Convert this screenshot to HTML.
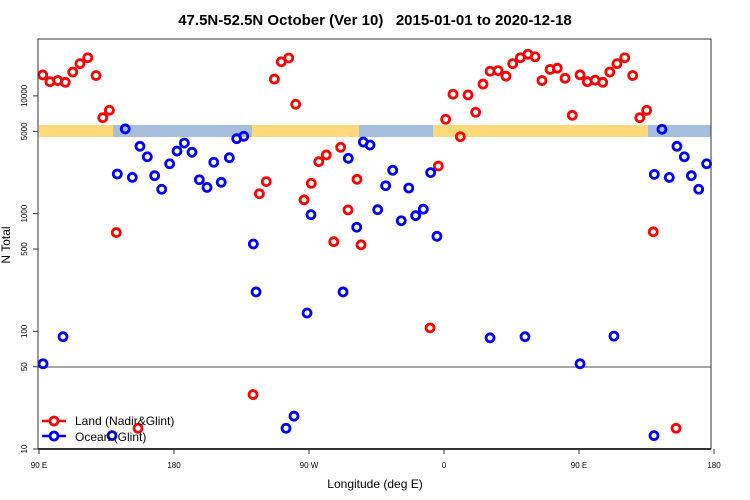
<!DOCTYPE html>
<html><head><meta charset="utf-8"><style>
body{margin:0;background:#fff}
svg{display:block;font-family:"Liberation Sans",sans-serif}
</style></head><body>
<svg id="chart" width="750" height="500" viewBox="0 0 750 500">
<text x="375" y="25" text-anchor="middle" font-size="15" font-weight="bold">47.5N-52.5N October (Ver 10)&#160;&#160; 2015-01-01 to 2020-12-18</text>
<text x="375" y="488" text-anchor="middle" font-size="12">Longitude (deg E)</text>
<text transform="translate(10,245) rotate(-90)" text-anchor="middle" font-size="12">N Total</text>
<g id="band"></g>
<line x1="38" x2="711" y1="367" y2="367" stroke="#888" stroke-width="1.5"/>
<g id="axes"></g>
<g id="pts"></g>
<rect x="38" y="39" width="673" height="410" fill="none" stroke="#333" stroke-width="1"/>
<line x1="38" x2="711" y1="449" y2="449" stroke="#333" stroke-width="2"/>
<g>
<line x1="42" x2="66" y1="421" y2="421" stroke="#f00" stroke-width="2.5"/>
<circle cx="54" cy="421" r="4" fill="#fff" stroke="#f00" stroke-width="2.8"/>
<text x="75" y="425" font-size="12">Land (Nadir&amp;Glint)</text>
<line x1="42" x2="66" y1="436" y2="436" stroke="#00f" stroke-width="2.5"/>
<circle cx="54" cy="436" r="4" fill="#fff" stroke="#00f" stroke-width="2.8"/>
<text x="75" y="441" font-size="12">Ocean (Glint)</text>
</g>
</svg>
<script>
// longitude unwrapped: 90 = 90E, 180 = 180, 270 = 90W, 360 = 0, 450 = 90E, 540 = 180
const landLon=[92.5,97.3,102.5,107.5,112.5,117.3,122.5,128,132.5,136.9,141.5,156,232.7,236.9,241.5,246.9,251.5,256.5,261.1,266.7,271.5,276.5,281.5,286.5,291.1,296,302,304.7,350.7,356.2,361.1,366,370.9,376,381.1,386,390.7,396,401.3,405.8,410.9,416,420.7,425.3,430.7,435.5,440.7,445.5,450.7,455.5,460.7,465.8,470.5,475.3,480.5,485.8,490.5,495.1,499.5,514.7];
const landVal=[15070,13200,13500,13050,15950,18800,21100,14900,6530,7550,690,15,29,1475,1870,13900,19500,21000,8490,1310,1810,2760,3150,577,3660,1075,1955,543,107,2535,6330,10330,4500,10190,7260,12600,16200,16400,14700,18800,21100,22600,21500,13500,16800,17200,14100,6840,15100,13200,13600,13050,15950,18800,21100,14900,6530,7550,700,15];
const oceanLon=[92.7,106,138.7,142.2,147.5,152.2,157.3,162.2,167.1,171.8,177.1,182,186.9,192,196.9,202,206.5,211.5,216.9,221.8,226.5,232.9,234.7,254.7,260,268.7,271.3,292.7,296.2,301.8,306.2,310.7,315.8,321.1,325.8,331.5,336.5,341.1,346.2,351.1,355.3,390.7,414,450.7,473.3,500,500.2,505.3,510.2,515.3,520.2,524.9,529.8,535.1];
const oceanVal=[53,90,13,2170,5240,2030,3730,3040,2100,1610,2650,3400,3980,3320,1940,1670,2730,1845,2985,4330,4540,552,216,15,19,143,980,216,2950,766,4055,3825,1080,1725,2335,870,1650,960,1090,2230,641,88,90,53,91,13,2155,5200,2030,3730,3040,2100,1610,2650];
const yTicks=[10,50,100,500,1000,5000,10000];
const xTickPos=[90,180,270,360,450,540];
const xTickLabels=["90 E","180","90 W","0","90 E","180"];
// band segments along 50N
const bandStart=[90,139.3,232,303.3,352.7,496];
const bandEnd=[139.3,232,303.3,352.7,496,538];
const bandType=["land","ocean","land","ocean","land","ocean"];

const X=l=>39+(l-90)*1.5;
const Y=v=>449-(Math.log10(v)-1)*117.7;
const NS="http://www.w3.org/2000/svg";
function mk(tag,parent,attrs){const e=document.createElementNS(NS,tag);for(const k in attrs)e.setAttribute(k,attrs[k]);parent.appendChild(e);return e;}

const band=document.getElementById('band');
for(let i=0;i<bandStart.length;i++){
  const r=mk('rect',band,{x:X(bandStart[i]),y:125,width:X(bandEnd[i])-X(bandStart[i]),height:12,fill:bandType[i]==='land'?'#FFD97A':'#A6BEDC'});
  
  
}
const axes=document.getElementById('axes');
yTicks.forEach(v=>{
  const y=Y(v);
  const t=mk('line',axes,{x1:33,x2:38,y1:y,y2:y,stroke:'#333'});
  
  
  const tx=mk('text',axes,{transform:`translate(27,${y}) rotate(-90)`,'text-anchor':'middle','font-size':8});
  tx.textContent=v;
  
  
});
xTickPos.forEach((p,i)=>{
  const x=X(p);
  const t=mk('line',axes,{x1:x,x2:x,y1:449,y2:454,stroke:'#333'});
  
  
  const tx=mk('text',axes,{x:x,y:468,'text-anchor':'middle','font-size':8});
  tx.textContent=xTickLabels[i];
  
  
});
const pts=document.getElementById('pts');
landLon.forEach((l,i)=>{
  const c=mk('circle',pts,{cx:X(l),cy:Y(landVal[i]),r:4,fill:'none',stroke:'#f00','stroke-width':2.8});
  
  
});
oceanLon.forEach((l,i)=>{
  const c=mk('circle',pts,{cx:X(l),cy:Y(oceanVal[i]),r:4,fill:'none',stroke:'#00f','stroke-width':2.8});
  
  
});
</script>
</body></html>
